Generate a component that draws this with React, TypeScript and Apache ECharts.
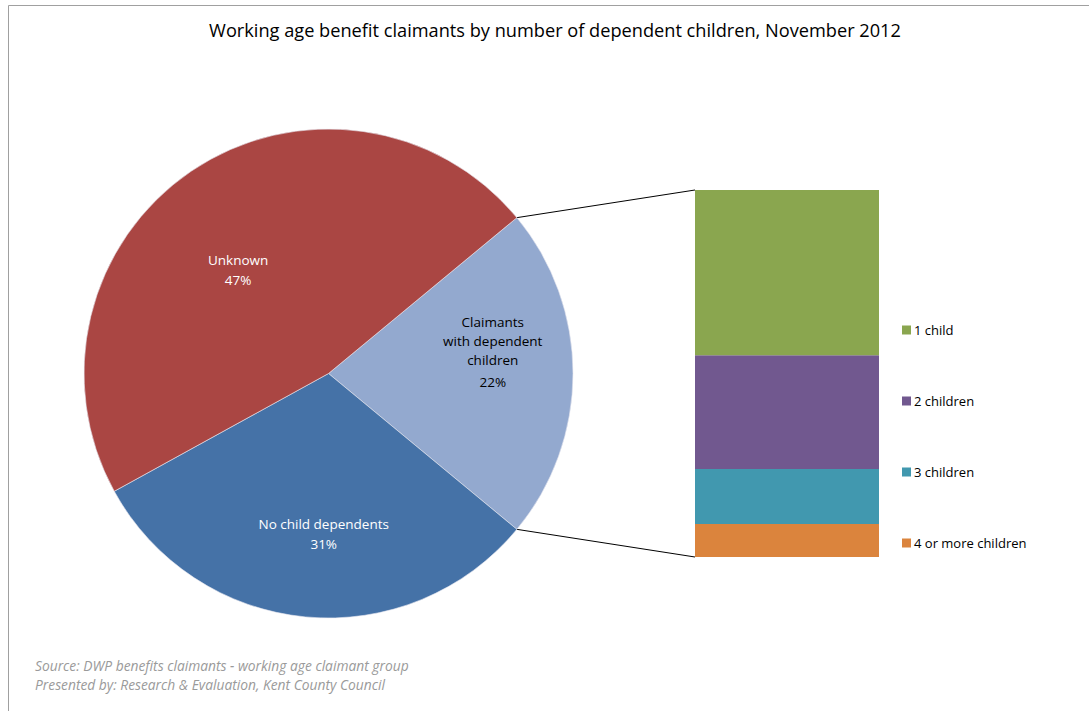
import React, { useEffect, useRef } from "react";
import * as echarts from "echarts";

const titleText = "Working age benefit claimants by number of dependent children, November 2012";
const pieNames = ["Claimants\nwith dependent\nchildren", "No child dependents", "Unknown"];
const pieValues = [22, 31, 47];
const barNames = ["1 child", "2 children", "3 children", "4 or more children"];
const barValues = [45, 31, 15, 9];
const sourceLines = [
  "Source: DWP benefits claimants - working age claimant group",
  "Presented by: Research & Evaluation, Kent County Council",
];

const FONT = "Open Sans";
const pieColors = ["#93a9cf", "#4572a7", "#aa4643"];
const barColors = ["#8aa64f", "#71588f", "#4198af", "#db843d"];
const labelColors = ["#000000", "#ffffff", "#ffffff"];
const labelOffsets = [[39, -20], [7, 36], [-20, 0]];

const CX = 328.5, CY = 373.5, R = 244.5;

export default function App() {
  const ref = useRef<HTMLDivElement>(null);
  useEffect(() => {
    document.body.style.margin = "0";
    const chart = echarts.init(ref.current!, null, { renderer: "svg" });
    const total = pieValues.reduce((a, b) => a + b, 0);
    const half = (pieValues[0] / total) * 180;

    const barSeries = barNames
      .map((name, i) => ({
        name,
        type: "bar",
        stack: "s",
        barWidth: "100%",
        data: [barValues[i]],
        itemStyle: { color: barColors[i] },
        xAxisIndex: 0,
        yAxisIndex: 0,
      }))
      .reverse();

    const baseGraphic = [
      {
        type: "rect",
        shape: { x: 8.5, y: 5.5, width: 1200, height: 900 },
        style: { fill: "none", stroke: "#a0a0a0", lineWidth: 1 },
        silent: true,
      },
      {
        type: "text",
        left: 35,
        top: 656,
        style: {
          text: sourceLines.join("\n"),
          font: `italic 13.8px "${FONT}"`,
          fill: "#9a9a9a",
          lineHeight: 19,
        },
      },
    ];

    chart.setOption({
      animation: false,
      textStyle: { fontFamily: FONT },
      title: {
        text: titleText,
        left: 550,
        textAlign: "center",
        top: 16,
        textStyle: { fontFamily: FONT, fontSize: 18.2, fontWeight: "normal", color: "#000" },
      },
      legend: {
        orient: "vertical",
        left: 897,
        top: 318,
        itemWidth: 9,
        itemHeight: 9,
        itemGap: 57,
        icon: "rect",
        data: barNames,
        textStyle: { fontFamily: FONT, fontSize: 13, color: "#000", lineHeight: 14, padding: [0, 0, 0, -2] },
      },
      grid: { left: 695, width: 184, top: 190, bottom: 154 },
      xAxis: { type: "category", data: [""], show: false },
      yAxis: { type: "value", min: 0, max: 100, show: false },
      series: [
        {
          type: "pie",
          center: [CX, CY],
          radius: [0, R],
          startAngle: half,
          clockwise: true,
          avoidLabelOverlap: false,
          data: pieNames.map((n, i) => ({
            name: n,
            value: pieValues[i],
            itemStyle: { color: pieColors[i], borderColor: "#e8e8f0", borderWidth: 0.6 },
            label: {
              show: true,
              position: "inside",
              offset: labelOffsets[i],
              color: labelColors[i],
              fontFamily: FONT,
              fontSize: 13.5,
              align: "center",
              formatter: (p: any) => `{a|${p.name}}\n{b|${p.value}%}`,
              rich: {
                a: { fontFamily: FONT, fontSize: 13.5, lineHeight: i === 0 ? 19 : 20, color: labelColors[i], align: "center" },
                b: { fontFamily: FONT, fontSize: 13.5, lineHeight: i === 0 ? 26 : 20, color: labelColors[i], align: "center" },
              },
            },
          })),
          labelLine: { show: false },
          emphasis: { disabled: true },
        },
        ...barSeries,
      ],
      graphic: baseGraphic,
    });

    const barTop = chart.convertToPixel({ yAxisIndex: 0 }, 100) as number;
    const barBottom = chart.convertToPixel({ yAxisIndex: 0 }, 0) as number;
    const barLeft = 695;
    const a = (half * Math.PI) / 180;
    const px = CX + R * Math.cos(a);
    const pyTop = CY - R * Math.sin(a);
    const pyBot = CY + R * Math.sin(a);
    chart.setOption({
      graphic: [
        ...baseGraphic,
        {
          type: "line",
          shape: { x1: px, y1: pyTop, x2: barLeft, y2: barTop },
          style: { stroke: "#000", lineWidth: 1 },
        },
        {
          type: "line",
          shape: { x1: px, y1: pyBot, x2: barLeft, y2: barBottom },
          style: { stroke: "#000", lineWidth: 1 },
        },
      ],
    });
    return () => chart.dispose();
  }, []);
  return <div ref={ref} style={{ width: 1089, height: 711 }} />;
}
